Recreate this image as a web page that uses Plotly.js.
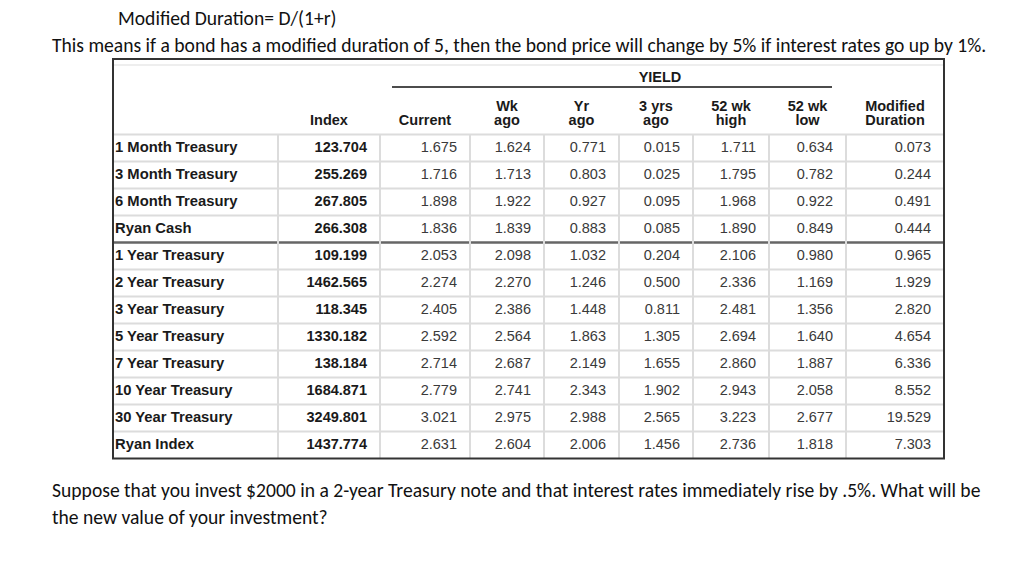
<!DOCTYPE html>
<html>
<head>
<meta charset="utf-8">
<script src="https://cdn.plot.ly/plotly-3.0.1.min.js"></script>
<style>html,body{margin:0;padding:0;background:#fff;}#chart{width:1024px;height:577px;}</style>
</head>
<body>
<div id="chart"></div>
<script>
// ---- data ----
const rowLabels = ["1 Month Treasury","3 Month Treasury","6 Month Treasury","Ryan Cash","1 Year Treasury","2 Year Treasury","3 Year Treasury","5 Year Treasury","7 Year Treasury","10 Year Treasury","30 Year Treasury","Ryan Index"];
const indexVals   = ["123.704","255.269","267.805","266.308","109.199","1462.565","118.345","1330.182","138.184","1684.871","3249.801","1437.774"];
const currentVals = ["1.675","1.716","1.898","1.836","2.053","2.274","2.405","2.592","2.714","2.779","3.021","2.631"];
const wkAgoVals   = ["1.624","1.713","1.922","1.839","2.098","2.270","2.386","2.564","2.687","2.741","2.975","2.604"];
const yrAgoVals   = ["0.771","0.803","0.927","0.883","1.032","1.246","1.448","1.863","2.149","2.343","2.988","2.006"];
const yrs3AgoVals = ["0.015","0.025","0.095","0.085","0.204","0.500","0.811","1.305","1.655","1.902","2.565","1.456"];
const wk52HighVals= ["1.711","1.795","1.968","1.890","2.106","2.336","2.481","2.694","2.860","2.943","3.223","2.736"];
const wk52LowVals = ["0.634","0.782","0.922","0.849","0.980","1.169","1.356","1.640","1.887","2.058","2.677","1.818"];
const modDurVals  = ["0.073","0.244","0.491","0.444","0.965","1.929","2.820","4.654","6.336","8.552","19.529","7.303"];
const headerTop    = ["", "", "", "Wk", "Yr", "3 yrs", "52 wk", "52 wk", "Modified"];
const headerBottom = ["", "Index", "Current", "ago", "ago", "ago", "high", "low", "Duration"];
const groupLabel = "YIELD";
const line1 = "Modified Duration= D/(1+r)";
const line2 = "This means if a bond has a modified duration of 5, then the bond price will change by 5% if interest rates go up by 1%.";
const line3 = "Suppose that you invest $2000 in a 2-year Treasury note and that interest rates immediately rise by .5%. What will be";
const line4 = "the new value of your investment?";

// ---- layout geometry ----
const colEdges = [113, 278, 380, 470, 544, 619, 693, 769, 846, 944];
const tableTop = 59, headBottom = 134.5, rowH = 27;
const rowY = i => headBottom + rowH * (i + 0.5) + 0.5;
const ys = rowLabels.map((_, i) => rowY(i));
const numCols = [indexVals, currentVals, wkAgoVals, yrAgoVals, yrs3AgoVals, wk52HighVals, wk52LowVals, modDurVals];
const tableFont = "Liberation Sans, Arial, sans-serif";
const docFont = "Carlito, Liberation Sans Narrow, Arial Narrow, sans-serif";
const fs = 14.5;

const traces = [];
traces.push({
  type: "scatter", mode: "text", x: rowLabels.map(() => colEdges[0] + 2), y: ys,
  text: rowLabels.map(t => "<b>" + t + "</b>"), textposition: "middle right",
  textfont: {family: tableFont, size: 14.8, color: "#1a1a1a"}, hoverinfo: "skip", showlegend: false
});
numCols.forEach((vals, c) => {
  traces.push({
    type: "scatter", mode: "text", x: vals.map(() => colEdges[c + 2] - 13), y: ys,
    text: c === 0 ? vals.map(v => "<b>" + v + "</b>") : vals, textposition: "middle left",
    textfont: {family: tableFont, size: fs, color: c === 0 ? "#1a1a1a" : "#3a3a3a"},
    hoverinfo: "skip", showlegend: false
  });
});
const hdrX = headerBottom.map((_, c) => (colEdges[c] + colEdges[c + 1]) / 2);
traces.push({
  type: "scatter", mode: "text", x: hdrX, y: headerTop.map(() => 107), text: headerTop.map(t => t ? "<b>" + t + "</b>" : ""),
  textposition: "middle center", textfont: {family: tableFont, size: fs, color: "#1a1a1a"}, hoverinfo: "skip", showlegend: false
});
traces.push({
  type: "scatter", mode: "text", x: hdrX, y: headerBottom.map(() => 121), text: headerBottom.map(t => t ? "<b>" + t + "</b>" : ""),
  textposition: "middle center", textfont: {family: tableFont, size: fs, color: "#1a1a1a"}, hoverinfo: "skip", showlegend: false
});
traces.push({
  type: "scatter", mode: "text", x: [(colEdges[3] + colEdges[8]) / 2 + 2], y: [78], text: ["<b>" + groupLabel + "</b>"],
  textposition: "middle center", textfont: {family: tableFont, size: fs, color: "#1a1a1a"}, hoverinfo: "skip", showlegend: false
});

// ---- shapes ----
const shapes = [];
const light = "#dcdcdc";
const tableBottom = headBottom + rowH * rowLabels.length;
shapes.push({type: "line", xref: "x", yref: "y", x0: colEdges[0], x1: colEdges[9], y0: 65, y1: 65, line: {color: "#e8e8e8", width: 1.5}});
shapes.push({type: "line", xref: "x", yref: "y", x0: 392, x1: 832, y0: 87, y1: 87, line: {color: "#111", width: 1.5}});
for (let k = 0; k < rowLabels.length; k++) {
  const y = headBottom + rowH * k;
  const dark = (k === 4);
  shapes.push({type: "line", xref: "x", yref: "y", x0: colEdges[0], x1: colEdges[9], y0: y, y1: y,
    line: {color: dark ? "#666" : light, width: dark ? 2.5 : 2}});
}
for (let c = 1; c < colEdges.length - 1; c++) {
  shapes.push({type: "line", xref: "x", yref: "y", x0: colEdges[c], x1: colEdges[c], y0: headBottom, y1: tableBottom, line: {color: light, width: 2}});
}
shapes.push({type: "rect", xref: "x", yref: "y", x0: colEdges[0], x1: colEdges[9], y0: tableTop, y1: tableBottom, line: {color: "#333", width: 2}});

const annotations = [
  {text: line1, x: 116, y: 18},
  {text: line2, x: 50, y: 45},
  {text: line3, x: 50, y: 490},
  {text: line4, x: 50, y: 517}
].map(a => Object.assign({xref: "x", yref: "y", xanchor: "left", yanchor: "middle", showarrow: false,
  font: {family: docFont, size: 19.6, color: "#111"}}, a));

const layout = {
  width: 1024, height: 577, margin: {l: 0, r: 0, t: 0, b: 0},
  paper_bgcolor: "#fff", plot_bgcolor: "#fff",
  xaxis: {range: [0, 1024], visible: false, fixedrange: true},
  yaxis: {range: [577, 0], visible: false, fixedrange: true},
  shapes: shapes, annotations: annotations, showlegend: false
};
Plotly.newPlot("chart", traces, layout, {displayModeBar: false, staticPlot: true});
</script>
</body>
</html>
